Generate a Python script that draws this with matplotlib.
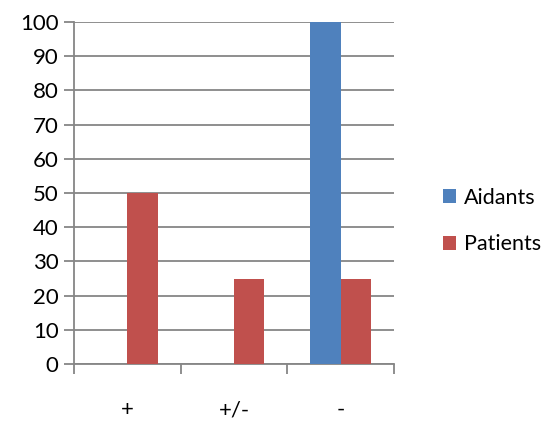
import numpy as np
import matplotlib.pyplot as plt

categories = ['+', '+/-', '-']
aidants = [0, 0, 100]
patients = [50, 25, 25]

plt.rcParams['font.family'] = ['Lato', 'DejaVu Sans']

fig = plt.figure(figsize=(5.49, 4.22), dpi=100)
ax = fig.add_axes([74 / 549, 1 - 364 / 422, 320 / 549, 342 / 422])

x = np.arange(len(categories))
w = 1 / 3.5
ax.bar(x - w / 2, aidants, w, color='#4F81BD', label='Aidants', zorder=3)
ax.bar(x + w / 2, patients, w, color='#C0504D', label='Patients', zorder=3)

ax.set_xlim(-0.5, 2.5)
ax.set_ylim(0, 100)
ax.set_yticks(range(0, 101, 10))
ax.yaxis.grid(True, color='#868686', lw=1.3, zorder=0)
ax.tick_params(axis='y', length=7, width=1.3, color='#868686', labelsize=16, pad=4)

# category ticks sit on the boundaries, labels in the middle
ax.set_xticks([-0.5, 0.5, 1.5, 2.5])
ax.set_xticklabels([])
ax.set_xticks(x, minor=True)
ax.set_xticklabels(categories, minor=True, fontsize=16)
ax.tick_params(axis='x', which='major', length=7, width=1.3, color='#868686', direction='out')
ax.tick_params(axis='x', which='minor', length=0, pad=26)

for s in ['top', 'right']:
    ax.spines[s].set_visible(False)
for s in ['left', 'bottom']:
    ax.spines[s].set_color('#868686')
    ax.spines[s].set_linewidth(1.3)

fig.legend(loc='center left', bbox_to_anchor=(424 / 549, 1 - 221 / 422), frameon=False,
           fontsize=15.5, handlelength=0.6, handleheight=0.6, handletextpad=0.35, labelspacing=1.25)

fig.savefig('out.png', dpi=100)
